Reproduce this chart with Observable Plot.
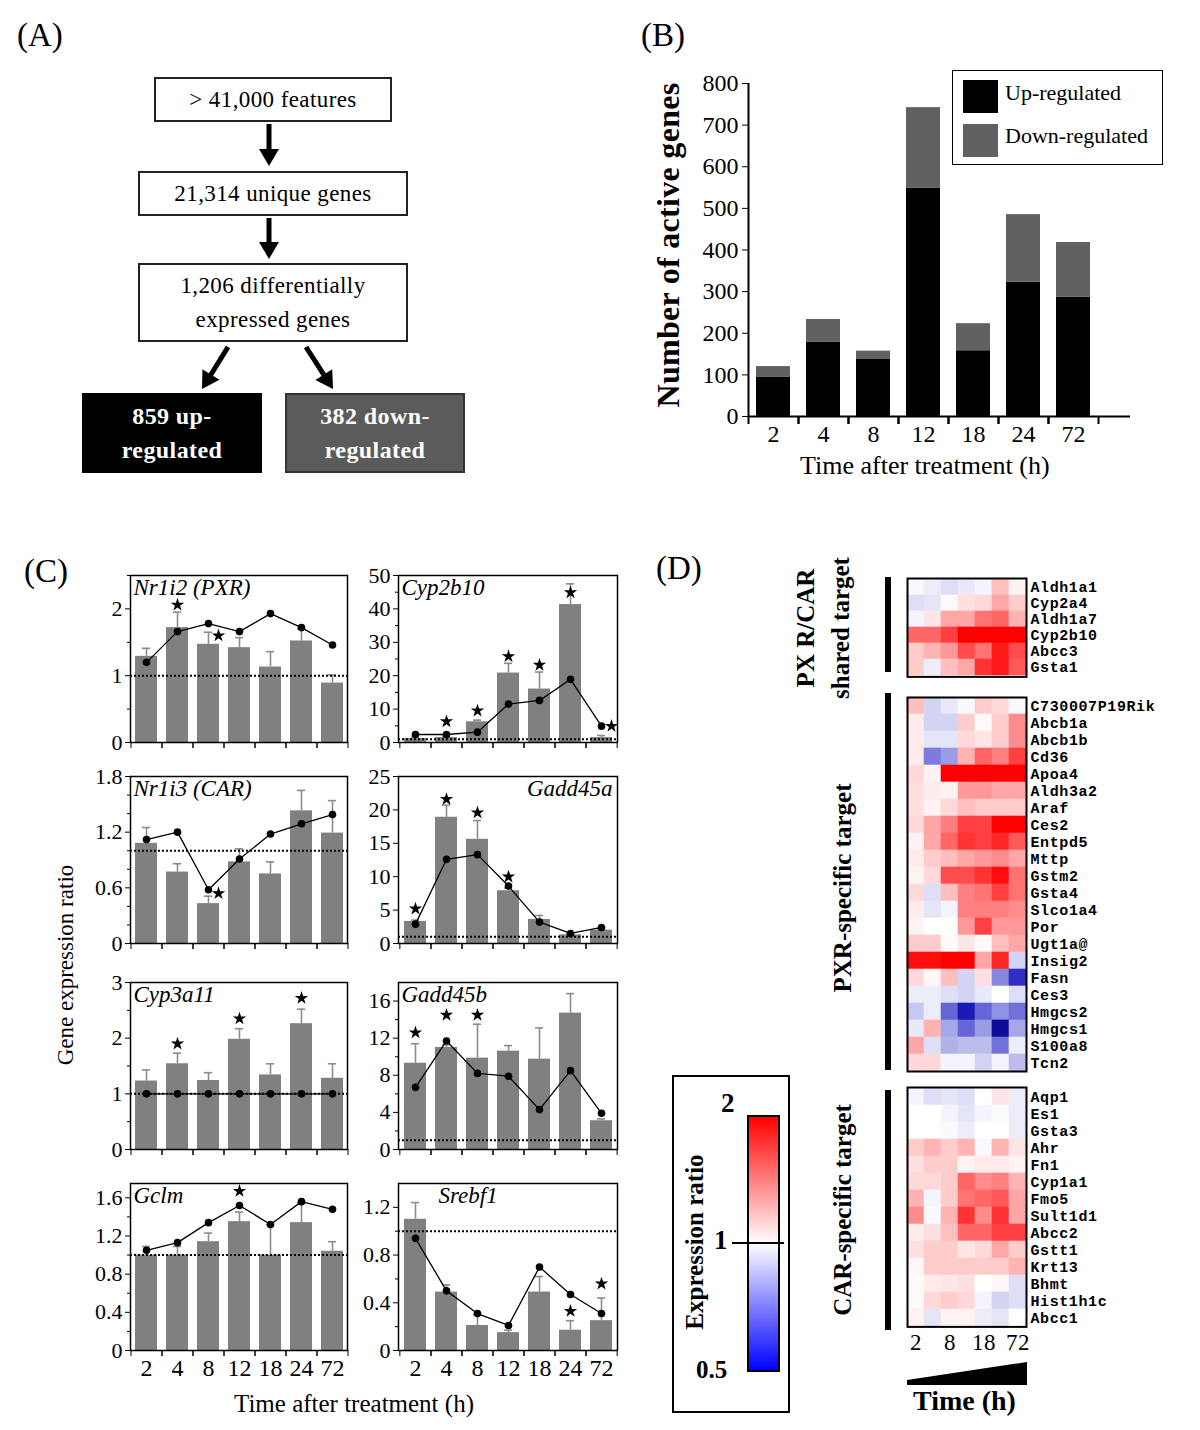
<!DOCTYPE html>
<html><head><meta charset="utf-8">
<script src="https://cdn.jsdelivr.net/npm/d3@7"></script>
<script src="https://cdn.jsdelivr.net/npm/@observablehq/plot@0.6"></script>
<style>
html,body{margin:0;padding:0;background:#fff;}
#fig{position:relative;width:1200px;height:1430px;overflow:hidden;font-family:"Liberation Serif","Times New Roman",serif;color:#000;}
#fig > *{position:absolute;}
.box{box-sizing:border-box;border:2px solid #222;display:flex;align-items:center;justify-content:center;text-align:center;font-size:23px;line-height:34px;background:#fff;letter-spacing:0.4px;}
</style></head><body><div id="fig"></div>
<script>
// ---------------- DATA ----------------
const timeLabels = ["2","4","8","12","18","24","72"];

// Panel A (flow chart)
const flowTop = ["> 41,000 features"];
const flowMid = ["21,314 unique genes"];
const flowDE = ["1,206 differentially", "expressed genes"];
const flowUp = ["859 up-", "regulated"];
const flowDown = ["382 down-", "regulated"];

// Panel B
const bSeries = ["Up-regulated", "Down-regulated"];
const upCounts = [95, 178, 137, 548, 158, 323, 287];
const downCounts = [25, 55, 20, 194, 65, 162, 131];
const bYTicks = [0, 100, 200, 300, 400, 500, 600, 700, 800];

// Panel C
const cGenes = ["Nr1i2 (PXR)", "Cyp2b10", "Nr1i3 (CAR)", "Gadd45a", "Cyp3a11", "Gadd45b", "Gclm", "Srebf1"];
const cDomains = [[0,2.5],[0,50],[0,1.8],[0,25],[0,3],[0,18],[0,1.75],[0,1.4]];
const cMajorTicks = [[0,1,2],[0,10,20,30,40,50],[0,0.6,1.2,1.8],[0,5,10,15,20,25],[0,1,2,3],[0,4,8,12,16],[0,0.4,0.8,1.2,1.6],[0,0.4,0.8,1.2]];
const cMinorTicks = [[0.5,1.5,2.5],[5,15,25,35,45],[0.2,0.4,0.8,1.0,1.4,1.6],[],[0.5,1.5,2.5],[2,6,10,14],[0.2,0.6,1.0,1.4],[0.2,0.6,1.0]];
const cBarMeans = [
  [1.29,1.72,1.47,1.42,1.13,1.52,0.89],
  [1.2,1.5,6.2,20.8,16.0,41.3,1.5],
  [1.08,0.77,0.43,0.88,0.75,1.43,1.19],
  [3.3,18.9,15.6,7.9,3.6,1.3,2.0],
  [1.23,1.54,1.24,1.98,1.34,2.26,1.28],
  [9.3,11.0,9.85,10.6,9.74,14.7,3.1],
  [1.0,1.0,1.14,1.35,1.0,1.34,1.04],
  [1.10,0.49,0.21,0.15,0.49,0.17,0.25]];
const cErrTops = [
  [1.41,1.95,1.65,1.57,1.36,1.70,1.01],
  [1.6,1.9,6.7,23.7,21.1,47.5,2.1],
  [1.25,0.86,0.51,1.02,0.88,1.65,1.54],
  [3.5,20.7,18.4,8.3,4.2,1.5,2.2],
  [1.43,1.73,1.38,2.17,1.54,2.52,1.54],
  [11.4,11.3,13.5,11.2,13.1,16.8,3.3],
  [1.09,1.09,1.23,1.45,1.32,1.55,1.14],
  [1.24,0.55,0.30,0.17,0.62,0.25,0.44]];
const cLineVals = [
  [1.2,1.66,1.78,1.66,1.93,1.72,1.46],
  [2.4,2.4,3.1,11.5,12.6,18.9,4.9],
  [1.12,1.2,0.58,0.91,1.18,1.29,1.39],
  [2.9,12.6,13.3,8.6,3.2,1.5,2.4],
  [1,1,1,1,1,1,1],
  [6.7,11.7,8.2,7.9,4.3,8.5,3.9],
  [1.05,1.13,1.34,1.52,1.32,1.56,1.48],
  [0.94,0.50,0.31,0.21,0.70,0.47,0.31]];
// significance stars: [time, value, beside-the-bar]
const cStars = [
  [["4",2.06,false],["8",1.6,true]],
  [["4",6.3,false],["8",9.5,false],["12",25.8,false],["18",23.2,false],["24",44.9,false],["72",4.9,true]],
  [["8",0.54,true]],
  [["2",5.2,false],["4",21.6,false],["8",19.6,false],["12",10.0,false]],
  [["4",1.9,false],["12",2.35,false],["24",2.72,false]],
  [["2",12.6,false],["4",14.5,false],["8",14.5,false]],
  [["12",1.67,false]],
  [["24",0.33,false],["72",0.56,false]]];

// Panel D (log2 expression ratios)
const sharedGenes = ["Aldh1a1","Cyp2a4","Aldh1a7","Cyp2b10","Abcc3","Gsta1"];
const sharedLog2 = [
  [-0.03,-0.08,-0.15,-0.1,-0.05,0.25,0.05],
  [-0.15,-0.12,0.02,0.12,0.15,0.35,0.2],
  [-0.05,0.1,0.35,0.35,0.55,0.6,0.3],
  [0.6,0.6,0.75,1,1,1,1],
  [0.2,0.3,0.4,0.7,0.55,0.9,0.7],
  [0.2,-0.08,0.25,0.35,0.8,0.9,0.65]];
const pxrGenes = ["C730007P19Rik","Abcb1a","Abcb1b","Cd36","Apoa4","Aldh3a2","Araf","Ces2","Entpd5","Mttp","Gstm2","Gsta4","Slco1a4","Por","Ugt1a@","Insig2","Fasn","Ces3","Hmgcs2","Hmgcs1","S100a8","Tcn2"];
const pxrLog2 = [
  [0.25,-0.2,-0.1,-0.03,0.2,0.15,-0.03],
  [0.08,-0.2,-0.2,0.2,0.02,0.2,0.45],
  [0.08,-0.12,-0.12,0.15,0.1,0.2,0.45],
  [0.08,-0.6,-0.45,0.3,0.6,0.5,0.75],
  [0.15,0.05,1,1,1,1,1],
  [0.12,0.08,0.05,0.4,0.4,0.35,0.35],
  [0.12,0.05,0.15,0.25,0.2,0.2,0.2],
  [0.15,0.35,0.5,0.75,0.75,1,1],
  [0.05,0.35,0.6,0.8,0.75,0.85,0.65],
  [0.08,0.2,0.25,0.35,0.4,0.45,0.35],
  [0.05,0.15,0.7,0.7,0.8,0.95,0.55],
  [0.15,-0.15,0.25,0.5,0.55,0.75,0.55],
  [0.08,-0.12,-0.05,0.5,0.5,0.5,0.45],
  [0.05,0,0,0.4,0.75,0.4,0.4],
  [0.2,0.2,0.02,0.1,0.02,0.25,0.35],
  [0.95,0.95,1,1,0.35,0.85,-0.2],
  [0.15,0.03,0.25,-0.2,0.12,-0.55,-0.95],
  [-0.08,-0.08,-0.15,-0.2,-0.1,0,-0.15],
  [-0.25,-0.08,-0.7,-1.1,-0.7,-0.5,-0.65],
  [-0.1,0.3,-0.4,-0.7,-0.45,-1.25,-0.4],
  [0.35,-0.15,-0.35,-0.3,-0.3,-0.65,-0.08],
  [0.15,0.15,-0.05,-0.05,-0.2,-0.05,-0.3]];
const carGenes = ["Aqp1","Es1","Gsta3","Ahr","Fn1","Cyp1a1","Fmo5","Sult1d1","Abcc2","Gstt1","Krt13","Bhmt","Hist1h1c","Abcc1"];
const carLog2 = [
  [-0.05,-0.15,-0.12,-0.15,0,0.1,-0.08],
  [0,0,-0.05,-0.12,-0.05,-0.02,-0.08],
  [0,0,-0.03,-0.08,0,0,-0.08],
  [0.2,0.3,0.2,0.3,-0.03,0.3,0.1],
  [0.12,0.2,0.2,0.05,0.08,0.08,0.05],
  [0.15,0.15,0.2,0.6,0.45,0.5,0.3],
  [0.3,-0.05,0.2,0.55,0.6,0.65,0.35],
  [0.45,-0.03,0.3,0.8,0.45,0.8,0.35],
  [0.08,0.12,0.25,0.6,0.6,0.75,0.75],
  [0.12,0.2,0.2,0.1,0.15,0.35,0.2],
  [0.03,0.2,0.2,0.2,0.2,0.2,0.3],
  [0.02,0.08,0.1,0.12,0,0.03,-0.15],
  [0.02,0.15,0.2,0.15,-0.05,-0.2,-0.15],
  [0.05,-0.12,0.05,0.05,-0.08,-0.12,0]];
const heatXTicks = ["2","8","18","72"];
const legendLabels = ["2","1","0.5"];

// ---------------- HELPERS ----------------
const fig = document.getElementById("fig");
const SERIF = "Liberation Serif, Times New Roman, serif";
function put(el, left, top) { el.style.position = "absolute"; el.style.left = left + "px"; el.style.top = top + "px"; fig.appendChild(el); return el; }
function txt(s, left, top, css) { const d = document.createElement("div"); d.textContent = s; d.style.cssText = "white-space:nowrap;" + (css || ""); return put(d, left, top); }
function vtxt(s, cx, cy, css) { const d = document.createElement("div"); d.textContent = s; d.style.cssText = "white-space:nowrap;transform:translate(-50%,-50%) rotate(-90deg);" + (css || ""); return put(d, cx, cy); }
function boxDiv(lines, left, top, w, h, css) {
  const d = document.createElement("div"); d.className = "box";
  d.style.width = w + "px"; d.style.height = h + "px";
  const inner = document.createElement("div");
  lines.forEach((l, i) => { if (i) inner.appendChild(document.createElement("br")); inner.appendChild(document.createTextNode(l)); });
  d.appendChild(inner); d.style.cssText += css || "";
  return put(d, left, top);
}
const plotStyle = {fontFamily: SERIF, fontSize: "22px", color: "#000", background: "none", overflow: "visible"};

// ---------------- PANEL A ----------------
txt("(A)", 17, 17, "font-size:33px;");
boxDiv(flowTop, 154, 77, 238, 45);
boxDiv(flowMid, 138, 171, 270, 45);
boxDiv(flowDE, 138, 263, 270, 79);
boxDiv(flowUp, 82, 393, 180, 80, "background:#000;color:#fff;font-weight:bold;font-size:24px;border-color:#000;");
boxDiv(flowDown, 285, 393, 180, 80, "background:#5b5b5b;color:#fff;font-weight:bold;font-size:24px;border-color:#333;");
{
  const svg = d3.create("svg").attr("width", 480).attr("height", 480);
  const arrow = (x1, y1, x2, y2) => {
    const dx = x2 - x1, dy = y2 - y1, L = Math.hypot(dx, dy), ux = dx / L, uy = dy / L, hl = 17, hw = 10;
    const bx = x2 - ux * hl, by = y2 - uy * hl;
    svg.append("line").attr("x1", x1).attr("y1", y1).attr("x2", bx + ux * 2).attr("y2", by + uy * 2).attr("stroke", "#000").attr("stroke-width", 5);
    svg.append("polygon").attr("points", [[x2, y2], [bx - uy * hw, by + ux * hw], [bx + uy * hw, by - ux * hw]].map(p => p.join(",")).join(" ")).attr("fill", "#000");
  };
  arrow(269, 124, 269, 166);
  arrow(269, 218, 269, 259);
  arrow(228, 347, 202, 389);
  arrow(306, 347, 333, 389);
  const n = svg.node(); n.style.pointerEvents = "none"; put(n, 0, 0);
}

// ---------------- PANEL B ----------------
txt("(B)", 641, 17, "font-size:33px;");
{
  const rows = timeLabels.flatMap((t, i) => [{t, dir: bSeries[0], n: upCounts[i]}, {t, dir: bSeries[1], n: downCounts[i]}]);
  const step = 50;
  const chart = Plot.plot({
    width: 470, height: 396, marginLeft: 80, marginRight: 40, marginTop: 23, marginBottom: 40,
    x: {domain: timeLabels, paddingInner: 0.32, paddingOuter: 0.16},
    y: {domain: [0, 800]},
    color: {domain: bSeries, range: ["#000000", "#616161"]},
    style: plotStyle,
    marks: [
      Plot.barY(rows, {x: "t", y: "n", fill: "dir"}),
      Plot.ruleY([0], {strokeWidth: 2, insetRight: -32}),
      Plot.ruleX([timeLabels[0]], {dx: -step / 2, strokeWidth: 2}),
      Plot.axisY({ticks: bYTicks, tickSize: 6, tickPadding: 4, fontSize: 24, label: null}),
      Plot.axisX({tickSize: 8, text: null, label: null, dx: step / 2, strokeWidth: 2}),
      Plot.axisX({tickSize: 8, text: null, label: null, dx: -step / 2, strokeWidth: 2}),
      Plot.axisX({tickSize: 0, tickPadding: 8, fontSize: 24, label: null})
    ]
  });
  put(chart, 668, 60);
  vtxt("Number of active genes", 668, 245, "font-size:32px;font-weight:bold;letter-spacing:0.3px;");
  txt("Time after treatment (h)", 800, 451, "font-size:26px;");
  // legend
  const lg = document.createElement("div");
  lg.style.cssText = "box-sizing:border-box;width:211px;height:95px;border:1.5px solid #000;background:#fff;";
  put(lg, 952, 70);
  bSeries.forEach((s, i) => {
    const sw = document.createElement("div");
    sw.style.cssText = "width:35px;height:33px;background:" + (i ? "#616161" : "#000") + ";";
    put(sw, 963, 80 + i * 44);
    txt(s, 1005, 79 + i * 43, "font-size:22px;line-height:28px;");
  });
}

// ---------------- PANEL C ----------------
txt("(C)", 24, 553, "font-size:33px;");
const cLayout = [[130,575,217],[398,575,219],[130,776,217],[398,776,219],[130,982,217],[398,982,219],[130,1183,217],[398,1183,219]];
const cTitlePos = [["top-left","start",3],["top-left","start",3],["top-left","start",3],["top-right","end",-5],["top-left","start",3],["top-left","start",3],["top-left","start",3],["top-left","start",40]];
function cPanel(i) {
  const [fl, ft, fw] = cLayout[i];
  const fh = 167, mL = 48, mR = 3, mT = 3, bottomRow = i >= 6, mB = bottomRow ? 36 : 12;
  const rows = timeLabels.map((t, j) => ({t, bar: cBarMeans[i][j], err: cErrTops[i][j], line: cLineVals[i][j]}));
  const stars = cStars[i].map(([t, y, side]) => ({t, y, side}));
  const step = fw / 7, bw = step * 0.7;
  const [fa, ta, tdx] = cTitlePos[i];
  const marks = [
    Plot.barY(rows, {x: "t", y: "bar", fill: "#808080"}),
    Plot.ruleX(rows, {x: "t", y1: "bar", y2: "err", stroke: "#8c8c8c", strokeWidth: 1.6}),
    Plot.tickY(rows, {x: "t", y: "err", stroke: "#8c8c8c", strokeWidth: 1.6, insetLeft: bw / 2 - 4, insetRight: bw / 2 - 4}),
    Plot.ruleY([1], {stroke: "#000", strokeWidth: 2, strokeDasharray: "2,2"}),
    Plot.line(rows, {x: "t", y: "line", stroke: "#000", strokeWidth: 1.3}),
    Plot.dot(rows, {x: "t", y: "line", fill: "#000", r: 3.8}),
    Plot.dot(stars.filter(s => !s.side), {x: "t", y: "y", symbol: "star", fill: "#000", r: 4.2}),
    Plot.dot(stars.filter(s => s.side), {x: "t", y: "y", symbol: "star", fill: "#000", r: 4.2, dx: 10}),
    Plot.frame({stroke: "#000", strokeWidth: 1.5}),
    Plot.text([cGenes[i]], {text: d => d, frameAnchor: fa, textAnchor: ta, dx: tdx, dy: 3, lineAnchor: "top", fontSize: 23, fontStyle: "italic"}),
    Plot.axisY({ticks: cMajorTicks[i], tickSize: 5, tickPadding: 3, fontSize: 22, label: null, tickFormat: d => String(d)}),
    Plot.axisY({ticks: cMinorTicks[i], tickSize: 3, text: null, label: null}),
    Plot.axisX({ticks: timeLabels, tickSize: 6, text: null, label: null, dx: step / 2}),
    Plot.axisX({ticks: timeLabels, tickSize: 6, text: null, label: null, dx: -step / 2})
  ];
  if (bottomRow) marks.push(Plot.axisX({ticks: timeLabels, tickSize: 0, tickPadding: 8, fontSize: 24, label: null}));
  const chart = Plot.plot({
    width: mL + fw + mR, height: mT + fh + mB, marginLeft: mL, marginRight: mR, marginTop: mT, marginBottom: mB,
    x: {domain: timeLabels, paddingInner: 0.3, paddingOuter: 0.15},
    y: {domain: cDomains[i]},
    style: plotStyle, marks
  });
  put(chart, fl - mL, ft - mT);
}
cGenes.forEach((g, i) => cPanel(i));
vtxt("Gene expression ratio", 66, 965, "font-size:23px;");
txt("Time after treatment (h)", 234, 1390, "font-size:25px;");

// ---------------- PANEL D ----------------
txt("(D)", 656, 550, "font-size:33px;");
const heatColor = {type: "linear", domain: [-1.4, -1, 0, 1], range: ["#000080", "#2424c4", "#ffffff", "#ff0000"], clamp: true, interpolate: "rgb"};
function heat(genes, vals, fl, ft, rowH, showX) {
  const cells = genes.flatMap((g, i) => timeLabels.map((t, j) => ({g, t, v: vals[i][j]})));
  const fw = 119, fh = genes.length * rowH, mL = 2, mT = 2, mR = 150, mB = showX ? 40 : 2;
  const marks = [
    Plot.cell(cells, {x: "t", y: "g", fill: "v", stroke: "v", strokeWidth: 0.6, inset: 0}),
    Plot.frame({stroke: "#000", strokeWidth: 2}),
    Plot.axisY({anchor: "right", tickSize: 0, tickPadding: 4, fontSize: 15, fontFamily: "Liberation Mono, DejaVu Sans Mono, monospace", fontWeight: "bold", label: null})
  ];
  if (showX) marks.push(Plot.axisX({ticks: heatXTicks, tickSize: 0, tickPadding: 7, fontSize: 23, label: null}));
  const xScale = showX ? {domain: timeLabels, padding: 0} : {domain: timeLabels, padding: 0, axis: null};
  const chart = Plot.plot({
    width: mL + fw + mR, height: mT + fh + mB, marginLeft: mL, marginTop: mT, marginRight: mR, marginBottom: mB,
    x: xScale, y: {domain: genes, padding: 0},
    color: heatColor, style: Object.assign({}, plotStyle, {letterSpacing: "0.6px"}), marks
  });
  put(chart, fl - mL, ft - mT);
}
heat(sharedGenes, sharedLog2, 907, 578, 16.4, false);
heat(pxrGenes, pxrLog2, 907, 697, 17, false);
heat(carGenes, carLog2, 907, 1087, 17.1, true);

// group bars
[[577, 672], [693, 1070], [1090, 1330]].forEach(([a, b]) => {
  const bar = document.createElement("div");
  bar.style.cssText = "width:6px;height:" + (b - a) + "px;background:#000;";
  put(bar, 885, a);
});
const boldD = "font-weight:bold;font-size:25px;";
vtxt("PX R/CAR", 806, 628, boldD);
vtxt("shared target", 841, 628, boldD);
vtxt("PXR-specific target", 843, 888, boldD);
vtxt("CAR-specific target", 843, 1210, boldD);

// time wedge
{
  const svg = d3.create("svg").attr("width", 140).attr("height", 40);
  svg.append("polygon").attr("points", "7,25 127,7 127,30 7,30").attr("fill", "#000");
  put(svg.node(), 900, 1355);
  txt("Time (h)", 913, 1385, "font-weight:bold;font-size:28px;");
}

// colour legend
{
  const box = document.createElement("div");
  box.style.cssText = "box-sizing:border-box;width:118px;height:338px;border:2px solid #000;background:#fff;";
  put(box, 672, 1075);
  const bar = document.createElement("div");
  bar.style.cssText = "box-sizing:border-box;width:33px;height:257px;border:2px solid #000;background:linear-gradient(to bottom,#ff0000 0%,#ffffff 50%,#0000ff 100%);";
  put(bar, 747, 1115);
  const line = document.createElement("div");
  line.style.cssText = "width:52px;height:2px;background:#000;";
  put(line, 732, 1242);
  txt(legendLabels[0], 721, 1088, "font-weight:bold;font-size:27px;");
  txt(legendLabels[1], 714, 1225, "font-weight:bold;font-size:27px;");
  txt(legendLabels[2], 696, 1356, "font-weight:bold;font-size:25px;");
  vtxt("Expression ratio", 695, 1242, "font-weight:bold;font-size:25px;");
}
</script></body></html>
